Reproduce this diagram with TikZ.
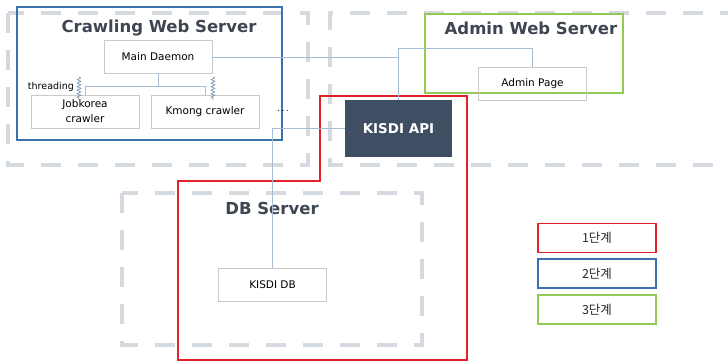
\documentclass[tikz,border=0pt]{standalone}
\usepackage{fontspec}
\setmainfont{DejaVu Sans}
\newfontfamily\krfont{Noto Sans CJK KR}
\usetikzlibrary{positioning, decorations.pathmorphing}

\definecolor{tiergray}{HTML}{D5D9E0}
\definecolor{boxgray}{HTML}{C9C9C9}
\definecolor{linkblue}{HTML}{A8BDD3}
\definecolor{threadblue}{HTML}{7C97B4}
\definecolor{titlegray}{HTML}{3E4652}
\definecolor{apinavy}{HTML}{3F4E63}
\definecolor{stepred}{HTML}{E5202A}
\definecolor{stepblue}{HTML}{3A72B0}
\definecolor{stepgreen}{HTML}{92C957}

\begin{document}
\begin{tikzpicture}[
  x=1pt, y=-1pt,
  tier/.style={draw=tiergray, line width=4pt, dash pattern=on 20pt off 17pt},
  frame/.style={line width=1.8pt},
  box/.style={draw=boxgray, minimum width=108pt, minimum height=33pt, align=center, inner sep=1pt, font=\fontsize{10.5}{15}\selectfont},
  title/.style={font=\bfseries\fontsize{16.5}{20}\selectfont, text=titlegray},
  link/.style={draw=linkblue, line width=0.7pt},
  thread/.style={draw=threadblue, line width=0.7pt, decorate, decoration={snake, amplitude=1.8pt, segment length=3.5pt}},
  legend/.style={draw, line width=1.8pt, minimum width=118pt, minimum height=29pt, font=\krfont\fontsize{12.5}{14}\selectfont, text=black!85}
]
\useasboundingbox (0,0) rectangle (728,362);

% server areas
\draw[tier] (8,13) rectangle (308,165);
\draw[tier] (740,13) -- (330,13) -- (330,165) -- (740,165);
\draw[tier] (122,193) rectangle (422,345);

% steps
\draw[frame, stepred] (320,96) -- (467,96) -- (467,360) -- (178,360) -- (178,181) -- (320,181) -- cycle;
\draw[frame, stepblue, line width=1.5pt] (17,7) rectangle (282,140);
\draw[frame, stepgreen] (425,14) rectangle (623,93);

% titles
\node[title] (crawltitle) at (159,28) {Crawling Web Server};
\node[title] (admintitle) at (531,28) {Admin Web Server};
\node[title] (dbtitle) at (272,208) {DB Server};

% Nodes
\node[box] (daemon) at (158,57) {Main Daemon};
\node[box] (jobkorea) at (85,111.5) {Jobkorea\\crawler};
\node[box] (kmong) at (205,111.5) {Kmong crawler};
\node[font=\fontsize{9}{10}\selectfont] (more) at (283,111) {.\,.\,.};
\node[fill=apinavy, text=white, minimum width=107pt, minimum height=57pt, font=\bfseries\fontsize{13.5}{16}\selectfont] (api) at (398.5,128.5) {KISDI API};
\node[box] (adminpage) at (532.5,83.5) {Admin Page};
\node[box] (kisdidb) at (272.5,285) {KISDI DB};

% threads
\draw[link] (daemon.south) -- ++(0,13);
\draw[link] (jobkorea.north) -- ++(0,-8) -| (kmong.north);
\draw[thread] ([xshift=-6pt,yshift=18pt]jobkorea.north) -- ([xshift=-6pt,yshift=-5pt]jobkorea.north);
\draw[thread] ([xshift=8pt,yshift=18pt]kmong.north) -- ([xshift=8pt,yshift=-5pt]kmong.north);
\node[anchor=east, inner sep=0pt, font=\fontsize{9.5}{10}\selectfont] (threadlbl) at (74,87) {threading};

% Pointers
\draw[link] (daemon.east) -- (daemon.east -| api.north);
\draw[link] (api.north) -- ++(0,-51) -| (adminpage.north);
\draw[link] (kisdidb.north) |- (api.west);

% legend
\node[legend, draw=stepred] (step1) at (597,238) {1단계};
\node[legend, draw=stepblue, below=5pt of step1] (step2) {2단계};
\node[legend, draw=stepgreen, below=5pt of step2] (step3) {3단계};
\end{tikzpicture}
\end{document}
